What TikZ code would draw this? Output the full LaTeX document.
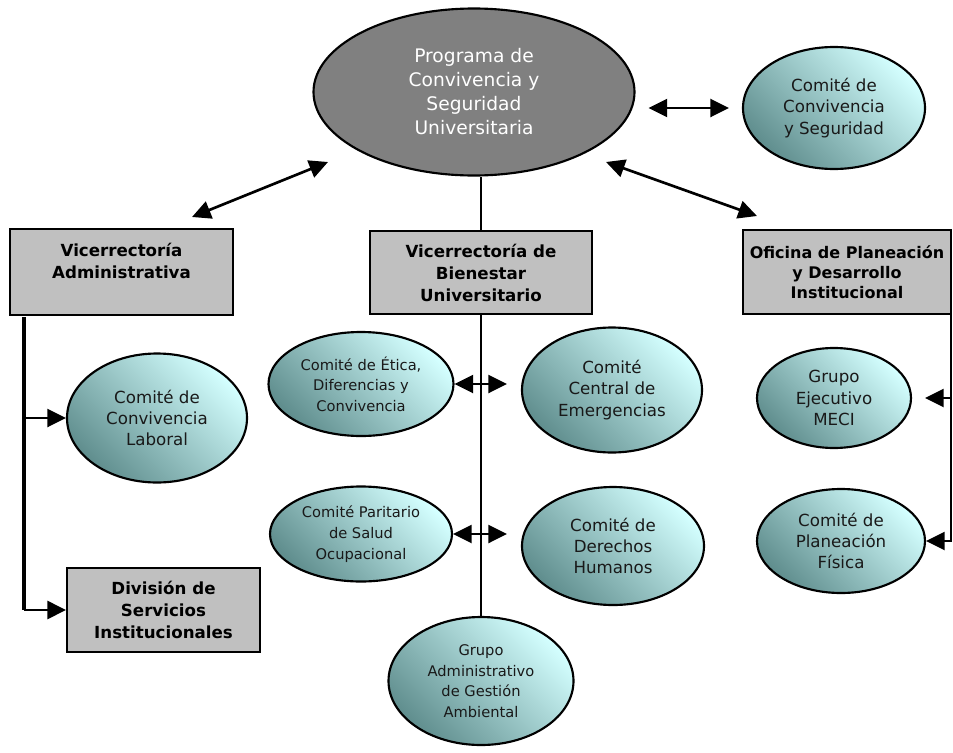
\documentclass[tikz,border=0pt]{standalone}
\usepackage{fontspec}
\setmainfont{DejaVu Sans}
\usetikzlibrary{arrows.meta}
\usetikzlibrary{positioning}
\usetikzlibrary{shapes.geometric}

\definecolor{tealosc}{RGB}{96,142,142}
\definecolor{cianclaro}{RGB}{212,255,255}
\definecolor{grisprog}{RGB}{128,128,128}
\definecolor{griscaja}{RGB}{192,192,192}

\tikzset{
  comite/.style={ellipse, draw, line width=1.6pt, inner sep=0pt, align=center,
    top color=cianclaro, bottom color=tealosc, shading angle=-45,
    text=black!90, font=\fontsize{12.5}{16}\selectfont},
  comitep/.style={comite, font=\fontsize{11}{15.5}\selectfont},
  progelip/.style={ellipse, draw, line width=1.6pt, inner sep=0pt, align=center,
    fill=grisprog, text=white, font=\fontsize{14}{18}\selectfont},
  caja/.style={rectangle, draw, line width=1.5pt, fill=griscaja, inner sep=0pt,
    align=center, font=\bfseries\fontsize{12.5}{16.5}\selectfont},
  con/.style={line width=2pt},
  flecha/.style={con, -{Triangle[length=14pt,width=13.5pt]}},
  dbl/.style={con, {Triangle[length=14pt,width=13.5pt]}-{Triangle[length=14pt,width=13.5pt]}},
}

\begin{document}
\begin{tikzpicture}[x=0.75pt, y=-0.75pt]

% Marco
\useasboundingbox (0,0) rectangle (953,753);

% Programa y comite de convivencia
\node[progelip, minimum width=240.75pt, minimum height=125.25pt] (prog) at (474,92)
  {Programa de\\Convivencia y\\Seguridad\\Universitaria};
\node[comite, minimum width=136.5pt, minimum height=91.5pt] (ccs) at (834,108)
  {Comité de\\Convivencia\\y Seguridad};

% Dependencias
\node[caja, minimum width=167.25pt, minimum height=64.5pt] (va) at (121.5,272)
  {Vicerrectoría\\Administrativa\\\mbox{}};
\node[caja, minimum width=166.5pt, minimum height=62.25pt] (vb) at (481,272.5)
  {Vicerrectoría de\\Bienestar\\Universitario};
\node[caja, minimum width=156pt, minimum height=63pt, font=\bfseries\fontsize{12}{15}\selectfont]
  (opd) at (847,272) {Oficina de Planeación\\y Desarrollo\\Institucional};

% Rama administrativa
\node[comite, minimum width=135pt, minimum height=96.75pt] (ccl) at (157,418)
  {Comité de\\Convivencia\\Laboral};
\node[caja, minimum width=144.75pt, minimum height=63pt] (dsi) at (163.5,610)
  {División de\\Servicios\\Institucionales};

% Rama de bienestar
\node[comitep, minimum width=138.75pt, minimum height=78pt] (etica) at (361,384)
  {Comité de Ética,\\Diferencias y\\Convivencia};
\node[comite, minimum width=135pt, minimum height=93.75pt] (emerg) at (612,390)
  {Comité\\Central de\\Emergencias};
\node[comitep, minimum width=136.5pt, minimum height=71.25pt] (parit) at (361,534)
  {Comité Paritario\\de Salud\\Ocupacional};
\node[comite, minimum width=136.5pt, minimum height=88.5pt] (ddhh) at (613,546)
  {Comité de\\Derechos\\Humanos};
\node[comitep, minimum width=138.75pt, minimum height=96pt] (gaga) at (481,681)
  {Grupo\\Administrativo\\de Gestión\\Ambiental};

% Rama de planeacion
\node[comite, minimum width=115.5pt, minimum height=75pt] (meci) at (834,398)
  {Grupo\\Ejecutivo\\MECI};
\node[comite, minimum width=126pt, minimum height=78pt] (cpf) at (841,541)
  {Comité de\\Planeación\\Física};

% Flechas del programa
\coordinate (pVA) at (328,162);
\coordinate (tVA) at (192,217);
\coordinate (pOPD) at (606,162);
\coordinate (tOPD) at (757,216);
\draw[dbl] (pVA) -- (tVA);
\draw[dbl] (pOPD) -- (tOPD);
\draw[dbl, shorten <=9.75pt, shorten >=9.75pt] (prog.east |- ccs.west) -- (ccs.west);
\draw[con] (vb.north |- prog.south) -- (vb.north);

% Lineas de cada dependencia
\coordinate (vaL) at (24,317);
\draw[con, line width=3pt] (vaL) -- (vaL |- dsi.west);
\draw[flecha] (vaL |- ccl.west) -- (ccl.west);
\draw[flecha] (vaL |- dsi.west) -- (dsi.west);

\draw[con] (vb.south) -- (gaga.north);
\draw[dbl, shorten >=10.5pt] (etica.east) -- (etica.east -| emerg.west);
\draw[dbl, shorten >=10.5pt] (parit.east) -- (parit.east -| ddhh.west);

\coordinate (opdL) at (951,314);
\draw[flecha] (opdL) |- (cpf.east);
\draw[flecha, shorten >=9.75pt] (opdL |- meci.east) -- (meci.east);

\end{tikzpicture}
\end{document}
